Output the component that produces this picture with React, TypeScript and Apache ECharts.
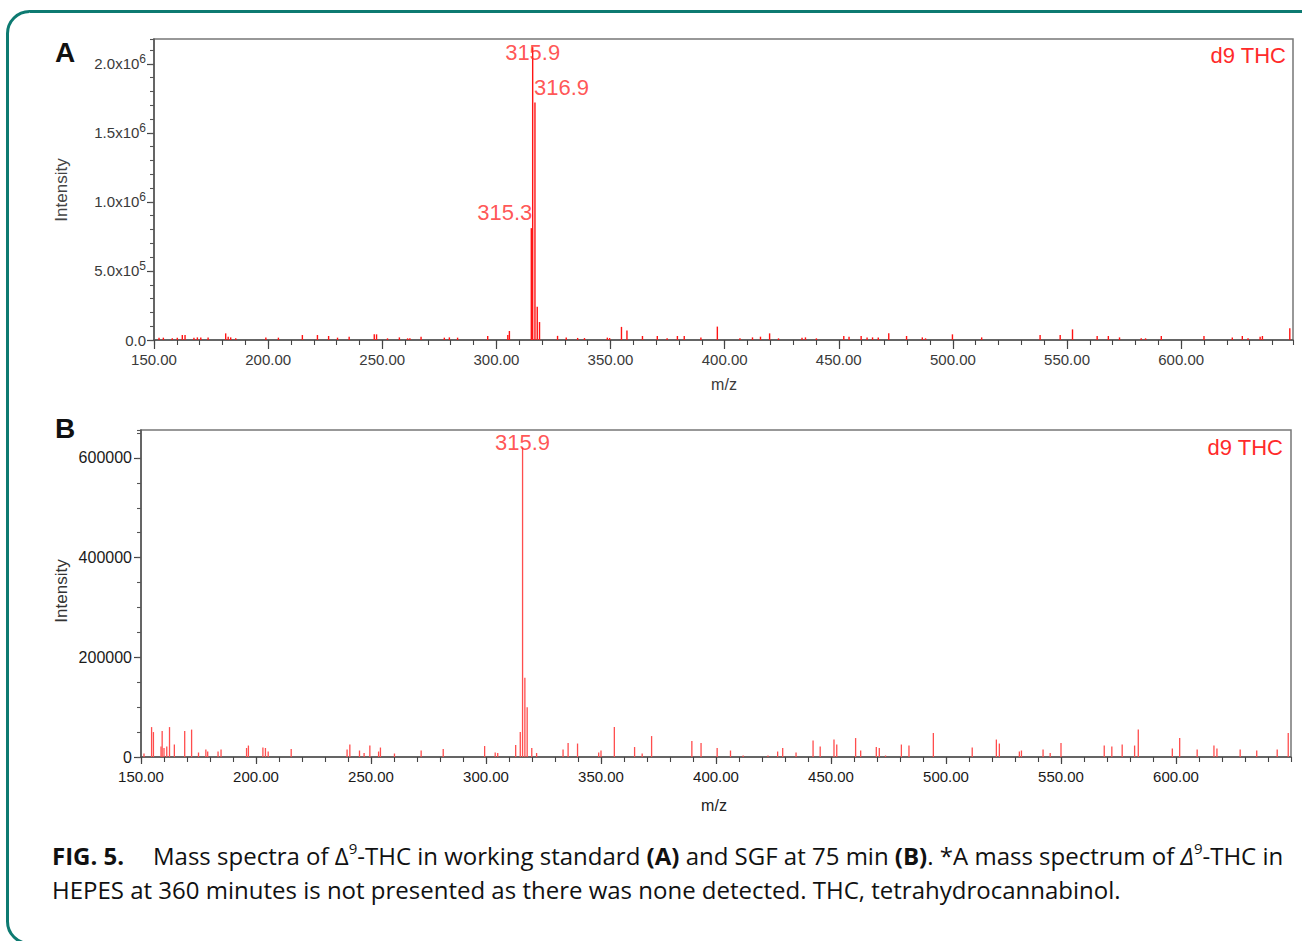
import React, { useEffect, useRef } from 'react';
import * as echarts from 'echarts';

// ---------- Data ----------
const mzA = [
  152.2, 154.1, 158.0, 160.2, 162.4, 163.6, 167.5, 169.0, 170.5, 173.7,
  181.4, 182.5, 183.6, 185.8, 199.0, 204.5, 215.0, 221.6, 226.5, 230.4,
  235.5, 246.5, 247.5, 252.3, 257.5, 261.1, 262.1, 267.0, 277.2, 279.4,
  283.0, 296.2, 305.0, 305.7, 315.3, 315.9, 316.9, 317.9, 318.9, 326.8,
  330.6, 335.6, 338.6, 348.6, 349.6, 354.8, 357.2, 364.0, 370.5, 374.8,
  379.3, 382.3, 389.6, 396.8, 406.7, 412.2, 415.7, 419.7, 423.6, 433.9,
  435.4, 440.2, 452.2, 454.5, 459.8, 462.4, 464.8, 467.3, 471.9, 479.7,
  486.6, 488.0, 499.8, 512.6, 538.2, 547.0, 552.4, 563.2, 568.1, 573.0,
  582.5, 584.4, 591.3, 610.0, 622.4, 626.8, 629.3, 634.6, 635.6, 647.6,
];
const intensityA = [
  17000, 17000, 12000, 17000, 36000, 36000, 17000, 19000, 19000, 19000,
  48000, 24000, 19000, 12000, 19000, 17000, 36000, 36000, 29000, 17000,
  24000, 41000, 41000, 12000, 19000, 12000, 12000, 24000, 17000, 19000,
  17000, 29000, 36000, 65000, 810000, 2120000, 1720000, 240000, 130000, 30000,
  19000, 15000, 14000, 17000, 14000, 95000, 68000, 29000, 29000, 12000,
  29000, 29000, 19000, 97000, 12000, 19000, 24000, 48000, 12000, 17000,
  19000, 12000, 29000, 24000, 29000, 19000, 19000, 19000, 48000, 29000,
  19000, 12000, 41000, 19000, 36000, 36000, 77000, 29000, 29000, 19000,
  12000, 12000, 29000, 29000, 19000, 29000, 12000, 24000, 29000, 85000,
];
const labeledPeaksA = [315.3, 315.9, 316.9];

const mzB = [
  151.3, 154.6, 155.4, 158.7, 159.2, 160.0, 161.2, 162.4, 164.5, 169.0,
  172.0, 175.0, 178.2, 179.0, 183.5, 184.8, 195.9, 196.7, 203.0, 204.1,
  205.3, 215.3, 239.6, 240.8, 245.0, 247.0, 249.5, 253.3, 254.1, 260.2,
  271.8, 281.4, 299.4, 304.0, 305.1, 312.9, 314.9, 315.9, 316.9, 317.9,
  319.9, 322.0, 333.5, 335.7, 339.8, 349.0, 350.0, 355.8, 364.6, 367.9,
  372.0, 389.5, 393.5, 400.5, 406.3, 411.8, 422.6, 426.8, 429.0, 434.8,
  442.2, 445.3, 451.3, 452.5, 460.7, 462.9, 469.7, 471.0, 473.7, 480.6,
  483.9, 494.5, 511.4, 521.9, 523.2, 531.9, 532.8, 542.2, 545.3, 550.0,
  568.8, 572.1, 576.6, 582.0, 583.6, 598.4, 601.6, 609.2, 616.5, 617.8,
  627.9, 635.1, 644.0, 648.8,
];
const intensityB = [
  7000, 60000, 50000, 21000, 52000, 18000, 21000, 60000, 25000, 52000,
  55000, 9000, 15000, 11000, 11000, 15000, 18000, 23000, 19000, 18000,
  11000, 16000, 15000, 25000, 13000, 8000, 23000, 11000, 19000, 7000,
  13000, 16000, 22000, 9000, 8000, 24000, 50000, 621000, 159000, 100000,
  18000, 8000, 15000, 28000, 27000, 9000, 13000, 60000, 20000, 7000,
  42000, 32000, 28000, 18000, 13000, 3000, 3000, 11000, 18000, 9000,
  33000, 21000, 35000, 25000, 38000, 13000, 20000, 18000, 3000, 25000,
  23000, 48000, 19000, 35000, 27000, 11000, 13000, 15000, 8000, 28000,
  23000, 21000, 25000, 23000, 55000, 17000, 38000, 15000, 23000, 17000,
  15000, 13000, 15000, 48000,
];
const labeledPeaksB = [315.9];

const panelLetters = ['A', 'B'];
const compoundLabel = 'd9 THC';
const xAxisName = 'm/z';
const yAxisName = 'Intensity';

// ---------- Styles ----------
const FONT = 'Liberation Sans';
const CAPTION_FONT = 'Open Sans';
const RED_A = '#ff1414';
const RED_B = '#ff4d4d';
const LABEL_RED = '#ff2a2a';

function pairs(xs: number[], ys: number[]) {
  return xs.map((x, i) => [x, ys[i]]);
}

function sticks(color: string, width: number) {
  return (params: any, api: any) => {
    const x = api.value(0);
    const y = api.value(1);
    const p0 = api.coord([x, 0]);
    const p1 = api.coord([x, y]);
    return {
      type: 'line',
      shape: { x1: p0[0], y1: p0[1], x2: p1[0], y2: p1[1] },
      style: { stroke: color, lineWidth: width },
    };
  };
}

function sciLabel(v: number) {
  if (v === 0) return '0.0';
  const exp = Math.floor(Math.log10(v) + 1e-9);
  const mant = (v / Math.pow(10, exp)).toFixed(1);
  return `{m|${mant}x10}{s|${exp}}`;
}

function majorX(grid: number, max: number, color: string, tickLen: number) {
  return {
    type: 'value', gridIndex: grid, min: 150, max, interval: 50, position: 'bottom',
    axisLine: { show: true, onZero: false, lineStyle: { color: '#555', width: 1.5 } },
    axisTick: { show: true, length: tickLen, lineStyle: { color: '#444', width: 1.2 } },
    axisLabel: {
      show: true, formatter: (v: number) => v.toFixed(2), showMaxLabel: false,
      fontSize: 15, fontFamily: FONT, color, margin: 12,
    },
    splitLine: { show: false },
  };
}
function minorX(grid: number, max: number, tickLen: number) {
  return {
    type: 'value', gridIndex: grid, min: 150, max, interval: 10, position: 'bottom',
    axisLine: { show: false, onZero: false },
    axisTick: { show: true, length: tickLen, lineStyle: { color: '#444', width: 1.1 } },
    axisLabel: { show: false },
    splitLine: { show: false },
  };
}
function minorY(grid: number, max: number, interval: number, tickLen: number) {
  return {
    type: 'value', gridIndex: grid, min: 0, max, interval, position: 'left',
    axisLine: { show: false, onZero: false },
    axisTick: { show: true, length: tickLen, lineStyle: { color: '#555', width: 1.1 } },
    axisLabel: { show: false },
    splitLine: { show: false },
  };
}

function labelSeries(peaks: number[], mzs: number[], ints: number[], xi: number, yi: number,
  placements: any[]) {
  return {
    type: 'scatter', xAxisIndex: xi, yAxisIndex: yi, symbolSize: 0, silent: true, z: 5,
    data: peaks.map((mz, i) => ({
      value: [mz, ints[mzs.indexOf(mz)]],
      label: {
        show: true, position: placements[i].position, offset: placements[i].offset,
        formatter: (p: any) => p.value[0].toFixed(1),
        fontSize: 22, fontFamily: FONT, color: LABEL_RED,
      },
    })),
  };
}

export default function App() {
  const ref = useRef<HTMLDivElement>(null);
  useEffect(() => {
    if (!ref.current) return;
    const chart = echarts.init(ref.current, undefined, { renderer: 'svg' });

    const capRich = {
      n: { fontSize: 24, fontFamily: CAPTION_FONT, fill: '#111', lineHeight: 30 },
      b: { fontSize: 24, fontFamily: CAPTION_FONT, fill: '#111', fontWeight: 'bold', lineHeight: 30 },
      i: { fontSize: 24, fontFamily: CAPTION_FONT, fill: '#111', fontStyle: 'italic', lineHeight: 30 },
      s: { fontSize: 15, fontFamily: CAPTION_FONT, fill: '#111', verticalAlign: 'top' },
    };

    const option: any = {
      animation: false,
      backgroundColor: '#ffffff',
      textStyle: { fontFamily: FONT },
      grid: [
        { left: 154, top: 39, width: 1139, height: 301, show: true, borderColor: '#777', borderWidth: 1.5, outerBoundsMode: 'none' },
        { left: 141, top: 430, width: 1150, height: 327, show: true, borderColor: '#777', borderWidth: 1.5, outerBoundsMode: 'none' },
      ],
      xAxis: [
        majorX(0, 649, '#3a3a3a', 9),
        minorX(0, 649, 5),
        majorX(1, 650, '#1a1a1a', 7),
        minorX(1, 650, 5),
      ],
      yAxis: [
        {
          type: 'value', gridIndex: 0, min: 0, max: 2180000, interval: 500000, position: 'left',
          axisLine: { show: true, onZero: false, lineStyle: { color: '#555', width: 1.5 } },
          axisTick: { show: true, length: 7, lineStyle: { color: '#444', width: 1.2 } },
          axisLabel: {
            show: true, formatter: sciLabel, showMaxLabel: false, margin: 8, color: '#3a3a3a',
            fontSize: 15, fontFamily: FONT,
            rich: {
              m: { fontSize: 15, fontFamily: FONT, color: '#3a3a3a', lineHeight: 22 },
              s: { fontSize: 12, fontFamily: FONT, color: '#3a3a3a', verticalAlign: 'top' },
            },
          },
          splitLine: { show: false },
        },
        minorY(0, 2180000, 100000, 4),
        {
          type: 'value', gridIndex: 1, min: 0, max: 656000, interval: 200000, position: 'left',
          axisLine: { show: true, onZero: false, lineStyle: { color: '#555', width: 1.5 } },
          axisTick: { show: true, length: 7, lineStyle: { color: '#444', width: 1.2 } },
          axisLabel: {
            show: true, showMaxLabel: false, margin: 9, color: '#1a1a1a',
            fontSize: 16, fontFamily: FONT, formatter: (v: number) => String(v),
          },
          splitLine: { show: false },
        },
        minorY(1, 656000, 50000, 4),
      ],
      series: [
        {
          type: 'custom', xAxisIndex: 0, yAxisIndex: 0, clip: true,
          renderItem: sticks(RED_A, 1.4), encode: { x: 0, y: 1 },
          data: pairs(mzA, intensityA), silent: true,
        },
        {
          type: 'custom', xAxisIndex: 2, yAxisIndex: 2, clip: true,
          renderItem: sticks(RED_B, 1.3), encode: { x: 0, y: 1 },
          data: pairs(mzB, intensityB), silent: true,
        },
        labelSeries(labeledPeaksA, mzA, intensityA, 0, 0, [
          { position: 'left', offset: [6, -16] },
          { position: 'inside', offset: [0, 5] },
          { position: 'right', offset: [-6, -15] },
        ]),
        labelSeries(labeledPeaksB, mzB, intensityB, 2, 2, [
          { position: 'inside', offset: [0, -5] },
        ]),
      ],
      graphic: [
        {
          type: 'rect', silent: true, z: 0,
          shape: { x: 7.5, y: 11.5, width: 1340, height: 932, r: 22 },
          style: { fill: 'none', stroke: '#0d7a71', lineWidth: 3 },
        },
        {
          type: 'text', x: 65, y: 52,
          style: { text: panelLetters[0], fontSize: 28, fontWeight: 'bold', fontFamily: FONT, fill: '#111', textAlign: 'center', textVerticalAlign: 'middle' },
        },
        {
          type: 'text', x: 65, y: 428,
          style: { text: panelLetters[1], fontSize: 28, fontWeight: 'bold', fontFamily: FONT, fill: '#111', textAlign: 'center', textVerticalAlign: 'middle' },
        },
        {
          type: 'text', x: 61, y: 190, rotation: Math.PI / 2,
          style: { text: yAxisName, fontSize: 17, fontFamily: FONT, fill: '#444', textAlign: 'center', textVerticalAlign: 'middle' },
        },
        {
          type: 'text', x: 61, y: 591, rotation: Math.PI / 2,
          style: { text: yAxisName, fontSize: 17, fontFamily: FONT, fill: '#333', textAlign: 'center', textVerticalAlign: 'middle' },
        },
        {
          type: 'text', x: 724, y: 384,
          style: { text: xAxisName, fontSize: 16, fontFamily: FONT, fill: '#3a3a3a', textAlign: 'center', textVerticalAlign: 'middle' },
        },
        {
          type: 'text', x: 714, y: 805,
          style: { text: xAxisName, fontSize: 16, fontFamily: FONT, fill: '#222', textAlign: 'center', textVerticalAlign: 'middle' },
        },
        {
          type: 'text', x: 1286, y: 55,
          style: { text: compoundLabel, fontSize: 22, fontFamily: FONT, fill: LABEL_RED, textAlign: 'right', textVerticalAlign: 'middle' },
        },
        {
          type: 'text', x: 1283, y: 447,
          style: { text: compoundLabel, fontSize: 22, fontFamily: FONT, fill: LABEL_RED, textAlign: 'right', textVerticalAlign: 'middle' },
        },
        {
          type: 'text', x: 52, y: 855,
          style: { text: '{b|FIG. 5.}', textAlign: 'left', textVerticalAlign: 'middle', rich: capRich },
        },
        {
          type: 'text', x: 153, y: 855,
          style: {
            text: '{n|Mass spectra of Δ}{s|9}{n|-THC in working standard }{b|(A)}{n| and SGF at 75 min }{b|(B)}{n|. *A mass spectrum of }{i|Δ}{s|9}{n|-THC in}',
            textAlign: 'left', textVerticalAlign: 'middle', rich: capRich,
          },
        },
        {
          type: 'text', x: 52, y: 889,
          style: {
            text: '{n|HEPES at 360 minutes is not presented as there was none detected. THC, tetrahydrocannabinol.}',
            textAlign: 'left', textVerticalAlign: 'middle', rich: capRich,
          },
        },
      ],
    };

    chart.setOption(option);
    return () => chart.dispose();
  }, []);

  return (
    <div
      ref={ref}
      style={{ position: 'absolute', left: 0, top: 0, width: 1302, height: 941, background: '#fff' }}
    />
  );
}
